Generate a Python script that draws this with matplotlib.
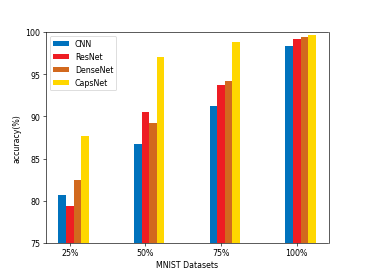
import matplotlib
matplotlib.use("Agg")
import matplotlib.pyplot as plt
import numpy as np

categories = ["25%", "50%", "75%", "100%"]
models = ["CNN", "ResNet", "DenseNet", "CapsNet"]
cnn = [80.7, 86.7, 91.2, 98.3]
resnet = [79.4, 90.5, 93.7, 99.2]
densenet = [82.5, 89.2, 94.2, 99.4]
capsnet = [87.7, 97.1, 98.8, 99.7]
colors = ["#0072BD", "#EE1D23", "#D2691E", "#FFD700"]

fig = plt.figure(figsize=(6.4, 4.8), dpi=365/6.4)
ax = fig.add_subplot(111)
x = np.arange(len(categories))
w = 0.1
for i, (name, vals, c) in enumerate(zip(models, [cnn, resnet, densenet, capsnet], colors)):
    ax.bar(x + i * w, vals, w, label=name, color=c)
ax.set_ylim(75, 100)
ax.set_xticks(x + w)
ax.set_xticklabels(categories)
ax.set_xlabel("MNIST Datasets")
ax.set_ylabel("accuracy(%)")
ax.legend(loc="upper left")
fig.savefig("out.png", dpi=365/6.4)
